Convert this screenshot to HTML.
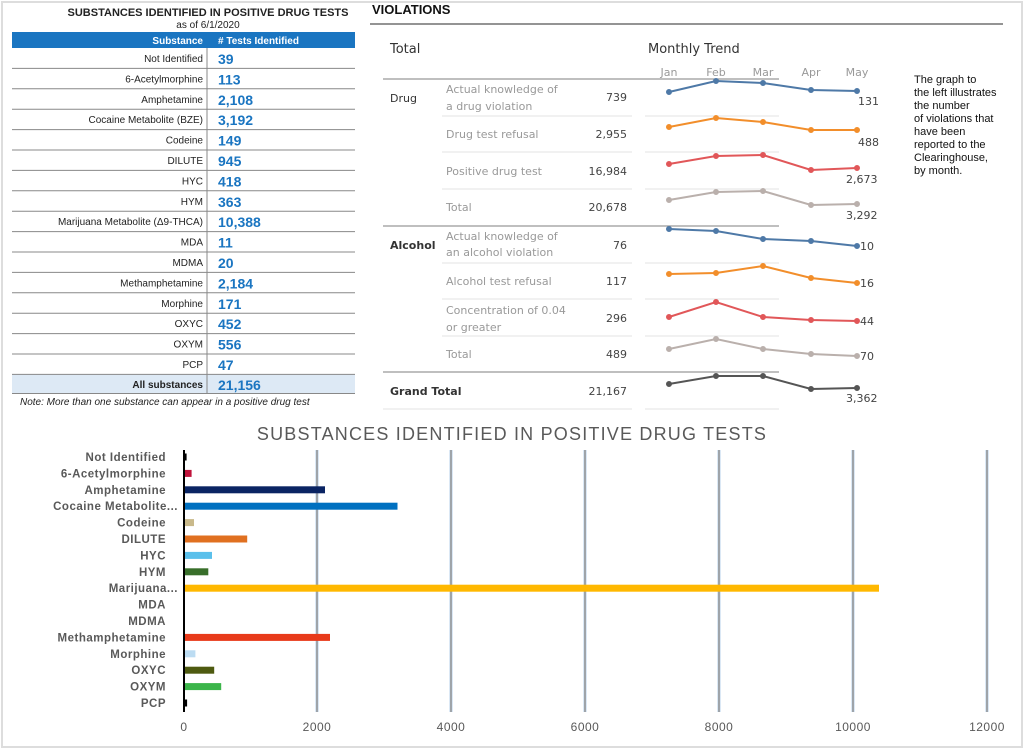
<!DOCTYPE html><html><head><meta charset="utf-8"><style>body{margin:0;background:#fff}svg{display:block}</style></head><body>
<svg width="1024" height="749" xmlns="http://www.w3.org/2000/svg" font-family="Liberation Sans, Arial, sans-serif">
<rect x="2" y="2" width="1020" height="745" fill="none" stroke="#ddd" stroke-width="2"/>
<text x="208" y="16" font-size="11" font-weight="bold" text-anchor="middle" fill="#222">SUBSTANCES IDENTIFIED IN POSITIVE DRUG TESTS</text>
<text x="208" y="28" font-size="10" text-anchor="middle" fill="#222">as of 6/1/2020</text>
<rect x="12" y="32" width="343" height="16" fill="#1a75c1"/>
<text x="203" y="44" font-size="10" font-weight="bold" text-anchor="end" fill="#fff">Substance</text>
<text x="218" y="44" font-size="10" font-weight="bold" fill="#fff"># Tests Identified</text>
<rect x="12" y="374.4" width="343" height="19" fill="#dde9f5"/>
<g stroke="#888" stroke-width="1">
<line x1="12" y1="68.4" x2="355" y2="68.4"/><line x1="12" y1="88.8" x2="355" y2="88.8"/><line x1="12" y1="109.2" x2="355" y2="109.2"/><line x1="12" y1="129.6" x2="355" y2="129.6"/><line x1="12" y1="150" x2="355" y2="150"/><line x1="12" y1="170.4" x2="355" y2="170.4"/><line x1="12" y1="190.8" x2="355" y2="190.8"/><line x1="12" y1="211.2" x2="355" y2="211.2"/><line x1="12" y1="231.6" x2="355" y2="231.6"/><line x1="12" y1="252" x2="355" y2="252"/><line x1="12" y1="272.4" x2="355" y2="272.4"/><line x1="12" y1="292.8" x2="355" y2="292.8"/><line x1="12" y1="313.2" x2="355" y2="313.2"/><line x1="12" y1="333.6" x2="355" y2="333.6"/><line x1="12" y1="354" x2="355" y2="354"/><line x1="12" y1="374.4" x2="355" y2="374.4"/><line x1="12" y1="393.5" x2="355" y2="393.5"/>
<line x1="207" y1="48" x2="207" y2="394"/>
</g>
<g font-size="10" text-anchor="end" fill="#222">
<text x="203" y="62">Not Identified</text><text x="203" y="82.4">6-Acetylmorphine</text><text x="203" y="102.8">Amphetamine</text><text x="203" y="123.2">Cocaine Metabolite (BZE)</text><text x="203" y="143.6">Codeine</text><text x="203" y="164">DILUTE</text><text x="203" y="184.4">HYC</text><text x="203" y="204.8">HYM</text><text x="203" y="225.2">Marijuana Metabolite (Δ9-THCA)</text><text x="203" y="245.6">MDA</text><text x="203" y="266">MDMA</text><text x="203" y="286.4">Methamphetamine</text><text x="203" y="306.8">Morphine</text><text x="203" y="327.2">OXYC</text><text x="203" y="347.6">OXYM</text><text x="203" y="368">PCP</text><text x="203" y="388" font-weight="bold">All substances</text>
</g>
<g font-size="14" font-weight="bold" fill="#1a75c1">
<text x="218" y="64">39</text><text x="218" y="84.4">113</text><text x="218" y="104.8">2,108</text><text x="218" y="125.2">3,192</text><text x="218" y="145.6">149</text><text x="218" y="166">945</text><text x="218" y="186.4">418</text><text x="218" y="206.8">363</text><text x="218" y="227.2">10,388</text><text x="218" y="247.6">11</text><text x="218" y="268">20</text><text x="218" y="288.4">2,184</text><text x="218" y="308.8">171</text><text x="218" y="329.2">452</text><text x="218" y="349.6">556</text><text x="218" y="370">47</text><text x="218" y="390">21,156</text>
</g>
<text x="20" y="405" font-size="10" font-style="italic" fill="#222">Note: More than one substance can appear in a positive drug test</text>

<text x="372" y="14" font-size="13" font-weight="bold" fill="#111">VIOLATIONS</text>
<line x1="370" y1="24" x2="1003" y2="24" stroke="#555" stroke-width="1.2"/>
<g font-family="DejaVu Sans, sans-serif">
<text x="390" y="53" font-size="13" fill="#333">Total</text>
<text x="648" y="53" font-size="13" fill="#333">Monthly Trend</text>
<g font-size="11" fill="#999" text-anchor="middle"><text x="669" y="76">Jan</text><text x="716" y="76">Feb</text><text x="763" y="76">Mar</text><text x="811" y="76">Apr</text><text x="857" y="76">May</text></g>
<line x1="383" y1="79" x2="779" y2="79" stroke="#999" stroke-width="1.2"/>
<line x1="383" y1="226" x2="779" y2="226" stroke="#999" stroke-width="1.2"/>
<line x1="383" y1="372" x2="779" y2="372" stroke="#999" stroke-width="1.2"/>
<g stroke="#e3e3e3" stroke-width="1">
<line x1="442" y1="116" x2="632" y2="116"/><line x1="645" y1="116" x2="779" y2="116"/>
<line x1="442" y1="152" x2="632" y2="152"/><line x1="645" y1="152" x2="779" y2="152"/>
<line x1="442" y1="189" x2="632" y2="189"/><line x1="645" y1="189" x2="779" y2="189"/>
<line x1="442" y1="263" x2="632" y2="263"/><line x1="645" y1="263" x2="779" y2="263"/>
<line x1="442" y1="299" x2="632" y2="299"/><line x1="645" y1="299" x2="779" y2="299"/>
<line x1="442" y1="336" x2="632" y2="336"/><line x1="645" y1="336" x2="779" y2="336"/>
<line x1="383" y1="409" x2="632" y2="409"/><line x1="645" y1="409" x2="779" y2="409"/>
</g>
<text x="390" y="102" font-size="11" fill="#333">Drug</text>
<text x="390" y="249" font-size="11" font-weight="bold" fill="#333">Alcohol</text>
<text x="390" y="395" font-size="11" font-weight="bold" fill="#333">Grand Total</text>
<g font-size="11" fill="#999">
<text x="446" y="93">Actual knowledge of</text><text x="446" y="110">a drug violation</text>
<text x="446" y="138">Drug test refusal</text>
<text x="446" y="175">Positive drug test</text>
<text x="446" y="211">Total</text>
<text x="446" y="240">Actual knowledge of</text><text x="446" y="256">an alcohol violation</text>
<text x="446" y="285">Alcohol test refusal</text>
<text x="446" y="314">Concentration of 0.04</text><text x="446" y="331">or greater</text>
<text x="446" y="358">Total</text>
</g>
<g font-size="11" fill="#444" text-anchor="end">
<text x="627" y="101">739</text><text x="627" y="138">2,955</text><text x="627" y="175">16,984</text><text x="627" y="211">20,678</text>
<text x="627" y="249">76</text><text x="627" y="285">117</text><text x="627" y="322">296</text><text x="627" y="358">489</text><text x="627" y="395">21,167</text>
</g>
<g font-size="11" fill="#444">
<text x="858" y="105">131</text><text x="858" y="146">488</text><text x="846" y="183">2,673</text><text x="846" y="219">3,292</text>
<text x="860" y="250">10</text><text x="860" y="287">16</text><text x="860" y="325">44</text><text x="860" y="360">70</text><text x="846" y="402">3,362</text>
</g>
</g>
<g stroke-width="2">
<g stroke="#4e79a7" fill="#4e79a7"><polyline fill="none" points="669,92 716,81 763,83 811,90 857,91"/><circle cx="669" cy="92" r="2"/><circle cx="716" cy="81" r="2"/><circle cx="763" cy="83" r="2"/><circle cx="811" cy="90" r="2"/><circle cx="857" cy="91" r="2"/></g>
<g stroke="#f28e2b" fill="#f28e2b"><polyline fill="none" points="669,127 716,118 763,122 811,130 857,130"/><circle cx="669" cy="127" r="2"/><circle cx="716" cy="118" r="2"/><circle cx="763" cy="122" r="2"/><circle cx="811" cy="130" r="2"/><circle cx="857" cy="130" r="2"/></g>
<g stroke="#e15759" fill="#e15759"><polyline fill="none" points="669,164 716,156 763,155 811,170 857,168"/><circle cx="669" cy="164" r="2"/><circle cx="716" cy="156" r="2"/><circle cx="763" cy="155" r="2"/><circle cx="811" cy="170" r="2"/><circle cx="857" cy="168" r="2"/></g>
<g stroke="#bab0ac" fill="#bab0ac"><polyline fill="none" points="669,200 716,192 763,191 811,205 857,204"/><circle cx="669" cy="200" r="2"/><circle cx="716" cy="192" r="2"/><circle cx="763" cy="191" r="2"/><circle cx="811" cy="205" r="2"/><circle cx="857" cy="204" r="2"/></g>
<g stroke="#4e79a7" fill="#4e79a7"><polyline fill="none" points="669,229 716,231 763,239 811,241 857,246"/><circle cx="669" cy="229" r="2"/><circle cx="716" cy="231" r="2"/><circle cx="763" cy="239" r="2"/><circle cx="811" cy="241" r="2"/><circle cx="857" cy="246" r="2"/></g>
<g stroke="#f28e2b" fill="#f28e2b"><polyline fill="none" points="669,274 716,273 763,266 811,278 857,283"/><circle cx="669" cy="274" r="2"/><circle cx="716" cy="273" r="2"/><circle cx="763" cy="266" r="2"/><circle cx="811" cy="278" r="2"/><circle cx="857" cy="283" r="2"/></g>
<g stroke="#e15759" fill="#e15759"><polyline fill="none" points="669,317 716,302 763,317 811,320 857,321"/><circle cx="669" cy="317" r="2"/><circle cx="716" cy="302" r="2"/><circle cx="763" cy="317" r="2"/><circle cx="811" cy="320" r="2"/><circle cx="857" cy="321" r="2"/></g>
<g stroke="#bab0ac" fill="#bab0ac"><polyline fill="none" points="669,349 716,339 763,349 811,354 857,356"/><circle cx="669" cy="349" r="2"/><circle cx="716" cy="339" r="2"/><circle cx="763" cy="349" r="2"/><circle cx="811" cy="354" r="2"/><circle cx="857" cy="356" r="2"/></g>
<g stroke="#555" fill="#555"><polyline fill="none" points="669,384 716,376 763,376 811,389 857,388"/><circle cx="669" cy="384" r="2"/><circle cx="716" cy="376" r="2"/><circle cx="763" cy="376" r="2"/><circle cx="811" cy="389" r="2"/><circle cx="857" cy="388" r="2"/></g>
</g>
<g font-size="11" fill="#111">
<text x="914" y="83">The graph to</text><text x="914" y="96">the left illustrates</text><text x="914" y="109">the number</text><text x="914" y="122">of violations that</text><text x="914" y="135">have been</text><text x="914" y="148">reported to the</text><text x="914" y="161">Clearinghouse,</text><text x="914" y="174">by month.</text>
</g>

<text x="512" y="440" font-size="18" fill="#595959" text-anchor="middle" letter-spacing="1.2">SUBSTANCES IDENTIFIED IN POSITIVE DRUG TESTS</text>
<g stroke-width="4" stroke="#dbe8f5"><line x1="317" y1="450" x2="317" y2="712"/><line x1="451" y1="450" x2="451" y2="712"/><line x1="585" y1="450" x2="585" y2="712"/><line x1="719" y1="450" x2="719" y2="712"/><line x1="853" y1="450" x2="853" y2="712"/><line x1="987" y1="450" x2="987" y2="712"/></g>
<g stroke-width="1.2" stroke="#777"><line x1="317" y1="450" x2="317" y2="712"/><line x1="451" y1="450" x2="451" y2="712"/><line x1="585" y1="450" x2="585" y2="712"/><line x1="719" y1="450" x2="719" y2="712"/><line x1="853" y1="450" x2="853" y2="712"/><line x1="987" y1="450" x2="987" y2="712"/></g>
<g>
<rect x="184" y="453.5" width="2.6" height="7" fill="#000"/>
<rect x="184" y="469.9" width="7.6" height="7" fill="#c0143c"/>
<rect x="184" y="486.3" width="141" height="7" fill="#0a2463"/>
<rect x="184" y="502.7" width="213.5" height="7" fill="#0070c0"/>
<rect x="184" y="519.1" width="10" height="7" fill="#c9b98a"/>
<rect x="184" y="535.5" width="63.2" height="7" fill="#e07020"/>
<rect x="184" y="551.9" width="28" height="7" fill="#5bc0eb"/>
<rect x="184" y="568.3" width="24.3" height="7" fill="#386e2a"/>
<rect x="184" y="584.7" width="695" height="7" fill="#ffb800"/>
<rect x="184" y="633.9" width="146" height="7" fill="#e83a1a"/>
<rect x="184" y="650.3" width="11.4" height="7" fill="#bcdcf2"/>
<rect x="184" y="666.7" width="30.2" height="7" fill="#4e5a10"/>
<rect x="184" y="683.1" width="37.2" height="7" fill="#3cb54a"/>
<rect x="184" y="699.5" width="3.1" height="7" fill="#000"/>
</g>
<line x1="184" y1="450" x2="184" y2="712" stroke="#000" stroke-width="2"/>
<g font-size="11.5" font-weight="bold" fill="#595959" text-anchor="end" letter-spacing="0.5">
<text x="166" y="461">Not Identified</text><text x="166" y="477.4">6-Acetylmorphine</text><text x="166" y="493.8">Amphetamine</text><text x="178" y="510.2">Cocaine Metabolite...</text><text x="166" y="526.6">Codeine</text><text x="166" y="543">DILUTE</text><text x="166" y="559.4">HYC</text><text x="166" y="575.8">HYM</text><text x="178" y="592.2">Marijuana...</text><text x="166" y="608.6">MDA</text><text x="166" y="625">MDMA</text><text x="166" y="641.4">Methamphetamine</text><text x="166" y="657.8">Morphine</text><text x="166" y="674.2">OXYC</text><text x="166" y="690.6">OXYM</text><text x="166" y="707">PCP</text>
</g>
<g font-size="12" fill="#595959" text-anchor="middle" letter-spacing="0.5">
<text x="184" y="731">0</text><text x="317" y="731">2000</text><text x="451" y="731">4000</text><text x="585" y="731">6000</text><text x="719" y="731">8000</text><text x="853" y="731">10000</text><text x="987" y="731">12000</text>
</g>
</svg>
</body></html>
